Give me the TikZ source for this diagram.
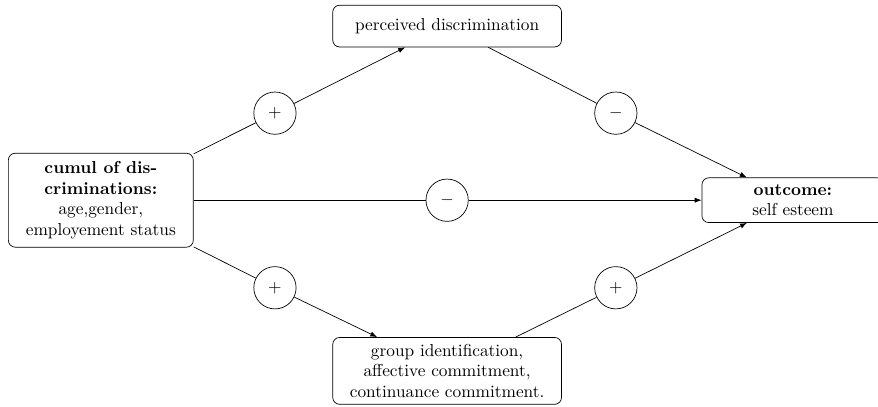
\documentclass[tikz,border=0pt]{standalone}
\usepackage{tikz}
\usepackage{amsmath}
\usetikzlibrary{arrows.meta, positioning}

\begin{document}
\begin{tikzpicture}[
    box/.style={rectangle, draw=black, rounded corners=4pt, align=center, inner sep=3pt},
    sign/.style={circle, draw=black, minimum size=0.86cm, inner sep=0pt},
    arr/.style={-{Latex[length=4pt, width=3pt]}}
]
    \useasboundingbox (0,0) rectangle (17.85,-8.27);

    % Cause
    \node[box, minimum width=3.76cm, minimum height=1.91cm] (cumul) at (2.05,-4.07)
        {\textbf{cumul of dis-}\\\textbf{criminations:}\\age,gender,\\employement status};

    % Mediators
    \node[box, minimum width=4.65cm, minimum height=0.85cm] (perc) at (9.09,-0.53) {perceived discrimination};
    \node[box, minimum width=4.65cm, minimum height=1.36cm] (group) at (9.09,-7.54)
        {group identification,\\affective commitment,\\continuance commitment.};

    % Outcome
    \node[box, minimum width=3.7cm, minimum height=0.91cm] (outcome) at (16.12,-4.07)
        {\textbf{outcome:}\\self esteem};

    % Signs
    \node[sign] (s1) at (5.59,-2.30) {$+$};
    \node[sign] (s2) at (12.52,-2.30) {$-$};
    \node[sign] (s3) at (9.09,-4.07) {$-$};
    \node[sign] (s4) at (5.59,-5.85) {$+$};
    \node[sign] (s5) at (12.52,-5.85) {$+$};

    % Connections
    \draw (cumul) -- (s1);
    \draw[arr] (s1) -- (perc);
    \draw (perc) -- (s2);
    \draw[arr] (s2) -- (outcome);
    \draw (cumul) -- (s3);
    \draw[arr] (s3) -- (outcome);
    \draw (cumul) -- (s4);
    \draw[arr] (s4) -- (group);
    \draw (group) -- (s5);
    \draw[arr] (s5) -- (outcome);
\end{tikzpicture}
\end{document}
